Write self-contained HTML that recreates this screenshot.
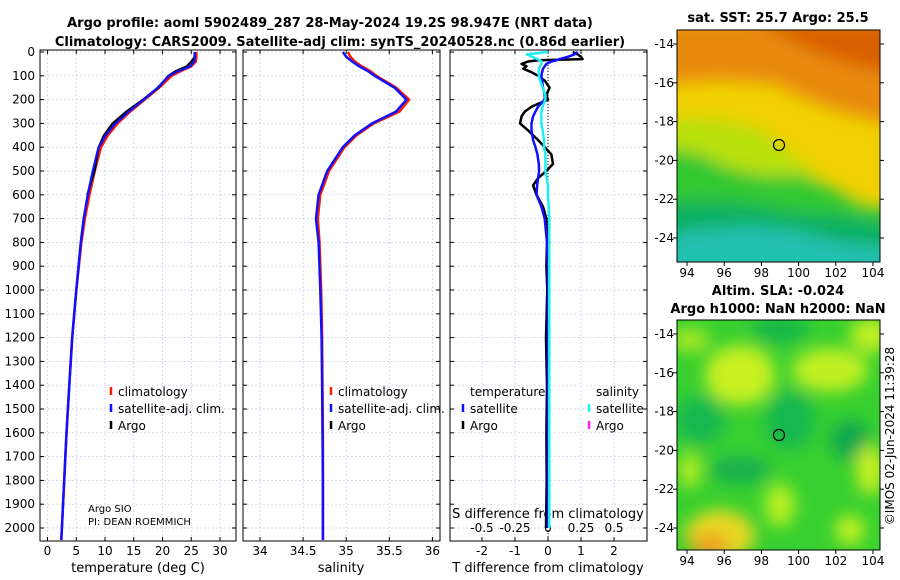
<!DOCTYPE html>
<html><head><meta charset="utf-8"><style>
body{margin:0;background:#fff}
svg{display:block;font-family:"DejaVu Sans","Liberation Sans",sans-serif}
</style></head><body>
<svg id="chart" width="900" height="580" viewBox="0 0 900 580">
<defs>
<filter id="bl" x="-20%" y="-20%" width="140%" height="140%"><feGaussianBlur stdDeviation="8"/></filter>
<clipPath id="c1"><rect x="677" y="30" width="203" height="232"/></clipPath>
<clipPath id="c2"><rect x="677" y="320" width="203" height="230"/></clipPath>
</defs>
<text x="330" y="27" text-anchor="middle" font-size="13" font-weight="bold">Argo profile: aoml 5902489_287 28-May-2024 19.2S 98.947E (NRT data)</text>
<text x="340" y="46" text-anchor="middle" font-size="13" font-weight="bold">Climatology: CARS2009. Satellite-adj clim: synTS_20240528.nc (0.86d earlier)</text>
<g id="panels"></g>
<g>
<text x="778" y="22" text-anchor="middle" font-size="13" font-weight="bold">sat. SST: 25.7 Argo: 25.5</text>
<g clip-path="url(#c1)">
<rect x="677" y="30" width="203" height="232" fill="#f0d000"/>
<g filter="url(#bl)">
<path d="M660 20 H900 V125 Q820 110 780 85 Q720 75 660 85Z" fill="#e88a10"/>
<path d="M750 20 H900 V75 Q840 65 800 45Z" fill="#d86000"/>
<path d="M660 120 Q720 115 760 130 Q800 160 830 190 L900 215 V280 H660Z" fill="#b8e010"/>
<path d="M660 150 Q700 150 720 165 Q760 180 800 175 Q840 190 860 205 L900 210 V280 H660Z" fill="#30c830"/>
<path d="M660 205 Q720 195 790 212 Q840 212 900 225 V280 H660Z" fill="#10b060"/>
<path d="M670 235 Q760 215 830 240 L900 250 V280 H660Z" fill="#20c0b0"/>
</g></g>
<rect x="677" y="30" width="203" height="232" fill="none" stroke="#000"/>
<circle cx="779" cy="145" r="5.5" fill="none" stroke="#000" stroke-width="1.2"/>
</g>
<g>
<text x="778" y="295" text-anchor="middle" font-size="13" font-weight="bold">Altim. SLA: -0.024</text>
<text x="778" y="313" text-anchor="middle" font-size="13" font-weight="bold">Argo h1000: NaN h2000: NaN</text>
<g clip-path="url(#c2)">
<rect x="677" y="320" width="203" height="230" fill="#38d030"/>
<g filter="url(#bl)">
<ellipse cx="740" cy="375" rx="35" ry="30" fill="#c8f020"/>
<ellipse cx="830" cy="370" rx="38" ry="22" fill="#c0f020"/>
<ellipse cx="870" cy="335" rx="20" ry="18" fill="#c0f020"/>
<ellipse cx="690" cy="340" rx="20" ry="12" fill="#a8e828"/>
<ellipse cx="780" cy="330" rx="30" ry="14" fill="#18b848"/>
<ellipse cx="700" cy="420" rx="25" ry="25" fill="#18b850"/>
<ellipse cx="790" cy="420" rx="25" ry="30" fill="#18b850"/>
<ellipse cx="850" cy="440" rx="20" ry="20" fill="#10a850"/>
<ellipse cx="740" cy="470" rx="30" ry="14" fill="#18b050"/>
<ellipse cx="780" cy="505" rx="15" ry="22" fill="#b8f020"/>
<ellipse cx="870" cy="470" rx="14" ry="25" fill="#c8f020"/>
<ellipse cx="690" cy="470" rx="10" ry="18" fill="#c0f020"/>
<ellipse cx="720" cy="535" rx="35" ry="25" fill="#e8d820"/>
<ellipse cx="710" cy="545" rx="20" ry="12" fill="#f0a020"/>
<ellipse cx="850" cy="530" rx="15" ry="15" fill="#c0f020"/>
</g></g>
<rect x="677" y="320" width="203" height="230" fill="none" stroke="#000"/>
<circle cx="779" cy="435" r="5.5" fill="none" stroke="#000" stroke-width="1.2"/>
</g>
<g id="mapaxes"></g>
<text x="0" y="0" transform="translate(894,436) rotate(-90)" text-anchor="middle" font-size="12">©IMOS 02-Jun-2024 11:39:28</text>
</svg>
<script>
const NS='http://www.w3.org/2000/svg';
const depthTicks=[0,100,200,300,400,500,600,700,800,900,1000,1100,1200,1300,1400,1500,1600,1700,1800,1900,2000];
const depths=[0,20,40,60,80,100,150,200,250,300,350,400,500,600,700,800,1000,1200,1400,1600,1800,2000,2050];
const tempClim=[25.9,25.9,25.8,25.0,23.2,21.6,19.4,16.9,14.4,12.2,10.5,9.3,8.2,7.3,6.5,5.9,5.0,4.3,3.8,3.3,2.9,2.5,2.4];
const tempSat=[25.6,25.6,25.5,24.8,22.7,21.1,19.2,16.7,14.1,11.8,10.1,8.9,7.9,7.0,6.3,5.8,5.0,4.3,3.8,3.3,2.9,2.5,2.4];
const tempArgo=[25.6,25.6,25.0,24.2,22.3,21.0,19.3,16.6,13.7,11.3,9.8,8.9,8.2,6.9,6.3,5.8,5.0,4.3,3.8,3.3,2.9,2.5,2.45];
const salClim=[35.02,35.05,35.1,35.18,35.28,35.35,35.58,35.73,35.62,35.32,35.12,34.98,34.8,34.7,34.67,34.69,34.71,34.72,34.725,34.73,34.73,34.73,34.73];
const salSat=[34.96,35.0,35.07,35.15,35.25,35.33,35.56,35.7,35.58,35.3,35.1,34.96,34.78,34.68,34.65,34.68,34.7,34.715,34.72,34.725,34.73,34.73,34.73];
const diffDepths=[0,10,20,30,35,40,50,60,70,85,100,120,150,180,200,230,250,270,300,330,370,400,430,470,500,530,560,600,650,700,800,900,1000,1200,1400,1600,1800,2000];
const tDiffSat=[0.9,0.8,0.6,0.35,0.25,0.1,-0.05,-0.1,-0.15,-0.18,-0.2,-0.18,-0.15,-0.1,-0.1,-0.3,-0.38,-0.45,-0.5,-0.5,-0.45,-0.38,-0.32,-0.28,-0.27,-0.3,-0.33,-0.35,-0.2,-0.1,-0.03,0,0,0,0,0,0,0];
const tDiffArgo=[0.75,0.9,1.0,1.05,-0.3,-0.6,-0.8,-0.65,-0.75,-0.5,-0.3,-0.1,0.05,-0.05,0,-0.5,-0.7,-0.8,-0.85,-0.6,-0.3,-0.1,0.1,0.15,-0.05,-0.3,-0.45,-0.35,-0.15,-0.05,-0.03,-0.05,-0.02,-0.06,-0.03,-0.05,-0.04,-0.06];
const sDiffSat=[0,-0.16,-0.12,-0.08,-0.06,-0.05,-0.05,-0.06,-0.07,-0.07,-0.07,-0.06,-0.04,-0.02,-0.02,-0.04,-0.05,-0.05,-0.05,-0.04,-0.03,-0.03,-0.02,-0.02,-0.02,-0.01,0,0,0.005,0.01,0.01,0.01,0.01,0.01,0.01,0.01,0.01,0.01];
const tTicks=[0,5,10,15,20,25,30];
const sTicks=[34,34.5,35,35.5,36];
const tdTicks=[-2,-1,0,1,2];
const sdTicks=[-0.5,-0.25,0,0.25,0.5];
const lonTicks=[94,96,98,100,102,104];
const latTicks=[-14,-16,-18,-20,-22,-24];

const g=document.getElementById('panels');
const yD=d=>52+d*0.238;
const TOP=50,BOT=541;
function el(tag,attrs,parent,txt){const e=document.createElementNS(NS,tag);for(const k in attrs)e.setAttribute(k,attrs[k]);if(txt!==undefined)e.textContent=txt;(parent||g).appendChild(e);return e;}
const xT=v=>47.5+v*5.75, xS=v=>260+(v-34)*86.2, xTD=v=>548+v*33, xSD=v=>548+v*132;
function panel(x0,x1,xf,ticks,name,showY){
  const p=el('g',{});
  
  
  ticks.forEach(t=>{const gl=el('line',{x1:xf(t),x2:xf(t),y1:TOP,y2:BOT,stroke:'#c8cce8','stroke-width':0.7,'stroke-dasharray':'2,2'},p);});
  depthTicks.forEach(d=>{const gl=el('line',{x1:x0,x2:x1,y1:yD(d),y2:yD(d),stroke:'#c8cce8','stroke-width':0.7,'stroke-dasharray':'2,2'},p);
    el('line',{x1:x0,x2:x0+4,y1:yD(d),y2:yD(d),stroke:'#000'},p);el('line',{x1:x1-4,x2:x1,y1:yD(d),y2:yD(d),stroke:'#000'},p);
    if(showY){const t=el('text',{x:x0-5,y:yD(d)+4,'text-anchor':'end','font-size':12},p,String(d));}});
  ticks.forEach(t=>{el('line',{x1:xf(t),x2:xf(t),y1:BOT,y2:BOT-4,stroke:'#000'},p);el('line',{x1:xf(t),x2:xf(t),y1:TOP,y2:TOP+4,stroke:'#000'},p);});
  const r=el('rect',{x:x0,y:TOP,width:x1-x0,height:BOT-TOP,fill:'none',stroke:'#000'},p);
  
  return p;
}
function xlabels(p,ticks,xf,y,fmt){ticks.forEach(t=>{const e=el('text',{x:xf(t),y:y,'text-anchor':'middle','font-size':12},p,fmt?fmt(t):String(t));});}
function line(p,xs,ds,xf,color,w,name){const pts=xs.map((v,i)=>xf(v).toFixed(1)+','+Math.min(yD(ds[i]),BOT).toFixed(1)).join(' ');const e=el('polyline',{points:pts,fill:'none',stroke:color,'stroke-width':w,'stroke-linejoin':'round'},p);}
function legend(p,x,y,color,label){const m=el('line',{x1:x,x2:x,y1:y-5,y2:y+3,stroke:color,'stroke-width':2.5},p);
  if(label){const t=el('text',{x:x+7,y:y+4,'font-size':12},p,label);}}
const LBLY=555, TTLY=572;
// panel 1
const p1=panel(40,236,xT,tTicks,'temperature-panel',true);
xlabels(p1,tTicks,xT,LBLY);
let t=el('text',{x:138,y:TTLY,'text-anchor':'middle','font-size':13},p1,'temperature (deg C)');
line(p1,tempClim,depths,xT,'#ff1a00',2.5,'temperature-climatology-line');
line(p1,tempSat,depths,xT,'#1010ff',2.5,'temperature-satellite-line');
line(p1,tempArgo.slice(0,14),depths.slice(0,14),xT,'#000',2,'temperature-argo-line');
line(p1,tempSat,depths,xT,'#1010ff',2,'temperature-satellite-line-top');
legend(p1,111,392,'#ff1a00','climatology');legend(p1,111,409,'#1010ff','satellite-adj. clim.');legend(p1,111,426,'#000','Argo');
el('text',{x:88,y:512,'font-size':10},p1,'Argo SIO');el('text',{x:88,y:525,'font-size':10},p1,'PI: DEAN ROEMMICH');
// panel 2
const p2=panel(243,440,xS,sTicks,'salinity-panel',false);
xlabels(p2,sTicks,xS,LBLY);
t=el('text',{x:341,y:TTLY,'text-anchor':'middle','font-size':13},p2,'salinity');
line(p2,salClim,depths,xS,'#ff1a00',2.5,'salinity-climatology-line');
line(p2,salSat,depths,xS,'#1010ff',2.5,'salinity-satellite-line');
legend(p2,331,392,'#ff1a00','climatology');legend(p2,331,409,'#1010ff','satellite-adj. clim.');legend(p2,331,426,'#000','Argo');
// panel 3
const p3=panel(450,647,xTD,tdTicks,'difference-panel',false);
xlabels(p3,tdTicks,xTD,LBLY);
xlabels(p3,sdTicks,xSD,532,v=>String(v));
t=el('text',{x:548,y:TTLY,'text-anchor':'middle','font-size':13},p3,'T difference from climatology');
t=el('text',{x:548,y:518,'text-anchor':'middle','font-size':13},p3,'S difference from climatology');
el('line',{x1:548,x2:548,y1:TOP,y2:BOT,stroke:'#000','stroke-width':1,'stroke-dasharray':'1,2'},p3);
line(p3,tDiffArgo,diffDepths,xTD,'#000',2.5,'t-diff-argo-line');
line(p3,tDiffSat,diffDepths,xTD,'#1010ff',2.5,'t-diff-satellite-line');
line(p3,sDiffSat,diffDepths,xSD,'#20f0f0',2.5,'s-diff-satellite-line');
t=el('text',{x:470,y:396,'font-size':12},p3,'temperature');
t=el('text',{x:596,y:396,'font-size':12},p3,'salinity');
legend(p3,463,409,'#1010ff','satellite');legend(p3,463,426,'#000','Argo');
legend(p3,589,409,'#20f0f0','satellite');legend(p3,589,426,'#ff20ff','Argo');
// map axes
const ma=document.getElementById('mapaxes');
const xL=v=>687+(v-94)*18.6;
[[30,262,44],[320,550,334]].forEach(([top,bot,y14])=>{
  lonTicks.forEach(v=>{el('line',{x1:xL(v),x2:xL(v),y1:bot,y2:bot+4,stroke:'#000'},ma);
    const e=el('text',{x:xL(v),y:bot+15,'text-anchor':'middle','font-size':12},ma,String(v));});
  latTicks.forEach(v=>{const y=y14+(-14-v)*19.4;el('line',{x1:880,x2:884,y1:y,y2:y,stroke:'#000'},ma);el('line',{x1:673,x2:677,y1:y,y2:y,stroke:'#000'},ma);
    const e=el('text',{x:674,y:y+4,'text-anchor':'end','font-size':12},ma,String(v));});
});
</script>
</body></html>
